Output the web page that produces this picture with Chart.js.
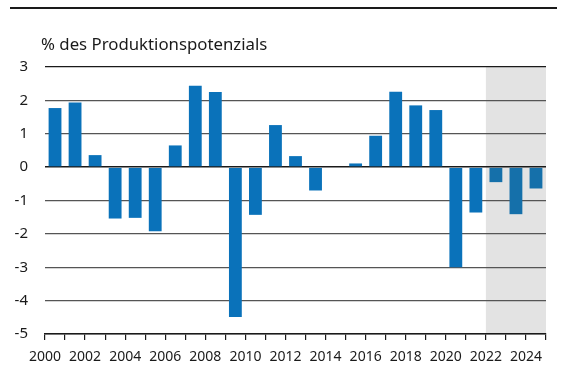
<!DOCTYPE html>
<html>
<head>
<meta charset="utf-8">
<script src="https://cdn.jsdelivr.net/npm/chart.js@4/dist/chart.umd.min.js"></script>
<style>
  html, body { margin: 0; padding: 0; background: #fff; }
  #wrap { position: relative; width: 567px; height: 365px; }
</style>
</head>
<body>
<div id="wrap"><canvas id="gapChart" width="567" height="365"></canvas></div>
<script>
// Produktionslücke in % des Produktionspotenzials, 2000-2024
const years = [2000, 2001, 2002, 2003, 2004, 2005, 2006, 2007, 2008, 2009, 2010, 2011, 2012,
               2013, 2014, 2015, 2016, 2017, 2018, 2019, 2020, 2021, 2022, 2023, 2024];
const gapValues = [1.77, 1.94, 0.36, -1.54, -1.52, -1.92, 0.65, 2.44, 2.25, -4.49, -1.43, 1.26, 0.33,
                   -0.70, 0.00, 0.11, 0.94, 2.26, 1.85, 1.71, -3.00, -1.36, -0.45, -1.41, -0.64];
const forecastFrom = 2022;   // ab hier Prognose (grau hinterlegt)
const yTicks = [3, 2, 1, 0, -1, -2, -3, -4, -5];
const unitLabel = '% des Produktionspotenzials';

const BLUE = '#0a72ba';
const BLUE_FC = '#1570aa';
const FONT = "'Noto Sans', 'DejaVu Sans', sans-serif";

// Balken mittig im Jahresintervall [Jahr, Jahr+1]
const barData = years.map((y, i) => ({ x: y + 0.5, y: gapValues[i] }));

// Grauer Prognosebereich, Überschrift und Linie oben
const decorPlugin = {
    id: 'decor',
    beforeDraw(chart) {
        const { ctx, chartArea, scales } = chart;
        const x0 = scales.x.getPixelForValue(forecastFrom);
        ctx.save();
        ctx.fillStyle = '#e3e3e3';
        ctx.fillRect(x0, chartArea.top, chartArea.right - x0, chartArea.bottom - chartArea.top);

        ctx.strokeStyle = '#1a1a1a';
        ctx.lineWidth = 2;
        ctx.beginPath();
        ctx.moveTo(10, 8);
        ctx.lineTo(557, 8);
        ctx.stroke();

        ctx.fillStyle = '#1a1a1a';
        ctx.font = '16.8px ' + FONT;
        ctx.textBaseline = 'alphabetic';
        ctx.fillText(unitLabel, 41, 50);
        ctx.restore();
    }
};

const ctx = document.getElementById('gapChart').getContext('2d');
new Chart(ctx, {
    type: 'bar',
    data: {
        datasets: [{
            data: barData,
            backgroundColor: years.map(y => y >= forecastFrom ? BLUE_FC : BLUE),
            categoryPercentage: 1,
            barPercentage: 0.64
        }]
    },
    options: {
        responsive: false,
        animation: false,
        layout: { padding: { left: 10, right: 21, top: 67, bottom: 0 } },
        plugins: {
            legend: { display: false },
            tooltip: { enabled: false }
        },
        scales: {
            x: {
                type: 'linear',
                min: 2000,
                max: 2025,
                offset: false,
                afterFit: (s) => { s.height = 31; },
                afterBuildTicks: (s) => {
                    s.ticks = [];
                    for (let v = 2000; v <= 2025; v++) s.ticks.push({ value: v });
                },
                ticks: {
                    autoSkip: false,
                    maxRotation: 0,
                    padding: 9,
                    color: '#1a1a1a',
                    font: { family: FONT, size: 14 },
                    callback: (v) => (v % 2 === 0 && v <= 2024) ? String(v) : ''
                },
                grid: {
                    offset: false,
                    drawOnChartArea: false,
                    drawTicks: true,
                    tickLength: 6,
                    color: '#1a1a1a',
                    lineWidth: 1.2
                },
                border: { display: true, color: '#1a1a1a', width: 1.5 }
            },
            y: {
                min: -5,
                max: 3,
                afterFit: (s) => { s.width = 35; },
                afterBuildTicks: (s) => { s.ticks = yTicks.map(v => ({ value: v })); },
                ticks: {
                    padding: 17,
                    color: '#1a1a1a',
                    font: { family: FONT, size: 15 }
                },
                grid: {
                    drawTicks: false,
                    color: (c) => (c.tick.value === 0 || c.tick.value === 3) ? '#1a1a1a' : '#555555',
                    lineWidth: (c) => (c.tick.value === 0) ? 1.6 : 1.2
                },
                border: { display: false }
            }
        }
    },
    plugins: [decorPlugin]
});
</script>
</body>
</html>
